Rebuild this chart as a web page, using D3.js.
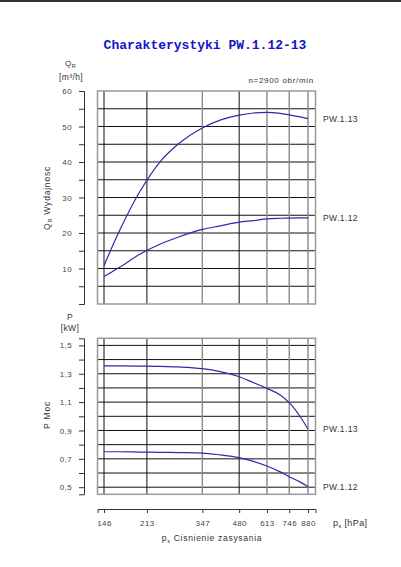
<!DOCTYPE html>
<html>
<head>
<meta charset="utf-8">
<script src="https://cdn.jsdelivr.net/npm/d3@7"></script>
<style>
  body { margin: 0; background: #fff; }
  text { font-family: "Liberation Sans", Arial, sans-serif; fill: #333; letter-spacing: 0.4px; }
  .tick text { font-size: 8px; fill: #444; }
  .tick line, .domain { stroke: #333; }
</style>
</head>
<body>
<script>
// suction pressure samples [hPa]
var pressure = [146, 168, 200, 240, 280, 347, 406, 480, 545, 613, 689, 746, 822, 880];
// flow [m3/h]
var flow113 = [10.8, 20.9, 31.6, 40.2, 45.0, 49.6, 51.8, 53.2, 53.8, 54.0, 53.7, 53.25, 52.7, 52.2];
var flow112 = [7.7, 10.4, 14.0, 16.9, 18.8, 21.0, 22.0, 23.05, 23.5, 24.0, 24.15, 24.2, 24.25, 24.26];
// power [kW]
var power113 = [1.355, 1.355, 1.354, 1.352, 1.348, 1.336, 1.315, 1.279, 1.237, 1.197, 1.150, 1.096, 0.997, 0.910];
var power112 = [0.750, 0.750, 0.748, 0.746, 0.744, 0.741, 0.728, 0.708, 0.682, 0.650, 0.608, 0.574, 0.536, 0.504];

var xTicks = [146, 213, 347, 480, 613, 746, 880];
var flowTicks = d3.range(0, 61, 5);
var powerTicks = [0.5, 0.6, 0.7, 0.8, 0.9, 1.0, 1.1, 1.2, 1.3, 1.4, 1.5];
var seriesNames = ["PW.1.13", "PW.1.12"];

var w = 401, h = 567;
var frameL = 97.5, frameR = 315.5;
var curveColor = "#2e2aa6";

var svg = d3.select("body").append("svg")
  .attr("width", w)
  .attr("height", h);

// thin dark bar at the top of the sheet
svg.append("rect").attr("x", 0).attr("y", 0).attr("width", w).attr("height", 2).attr("fill", "#333");

// x scale (log) and a copy that spans the whole frame for the axis
var x = d3.scaleLog().domain([146, 880]).range([104, 308]);
var xFrame = x.copy().domain([x.invert(frameL), x.invert(frameR)]).range([frameL, frameR]);

var yQ = d3.scaleLinear().domain([0, 60]).range([304, 91]);
var yP = d3.scaleLinear().domain([0.45, 1.55]).range([494.3, 338.3]);

// title
svg.append("text")
  .attr("x", 205).attr("y", 49)
  .attr("text-anchor", "middle")
  .style("font-family", "'Liberation Mono', 'DejaVu Sans Mono', monospace")
  .style("font-weight", "bold")
  .style("font-size", "13px")
  .style("letter-spacing", "0px")
  .style("fill", "#1414c8")
  .text("Charakterystyki PW.1.12-13");

svg.append("text")
  .attr("x", 314).attr("y", 83)
  .attr("text-anchor", "end")
  .style("font-size", "8px")
  .style("letter-spacing", "0.7px")
  .text("n=2900 obr/min");

function panel(y, ticks, fmt, labelTicks, series) {
  var top = y.range()[1], bottom = y.range()[0];
  var g = svg.append("g");

  // horizontal grid
  g.selectAll("line.h")
    .data(ticks.filter(function(t) { return y(t) > top + 1 && y(t) < bottom - 1; }))
    .enter().append("line")
    .attr("x1", frameL).attr("x2", frameR)
    .attr("y1", function(d) { return y(d); })
    .attr("y2", function(d) { return y(d); })
    .attr("stroke", "#111").attr("stroke-width", 1);

  // vertical grid
  g.selectAll("line.v")
    .data(xTicks)
    .enter().append("line")
    .attr("x1", function(d) { return x(d); })
    .attr("x2", function(d) { return x(d); })
    .attr("y1", top).attr("y2", bottom)
    .attr("stroke", function(d, i) { return (i == 2 || i > 3) ? "#888" : "#111"; })
    .attr("stroke-width", function(d, i) { return (i == 2 || i > 3) ? 1.4 : 1; });

  // frame
  g.append("rect")
    .attr("x", frameL).attr("y", top)
    .attr("width", frameR - frameL).attr("height", bottom - top)
    .attr("fill", "none").attr("stroke", "#999").attr("stroke-width", 1.5);

  // left axis, set apart from the frame
  var axis = d3.axisLeft(y)
    .tickValues(ticks)
    .tickSize(5)
    .tickSizeOuter(5)
    .tickPadding(7)
    .tickFormat(function(d) {
      return labelTicks.some(function(t) { return Math.abs(t - d) < 1e-6; }) ? fmt(d) : "";
    });
  svg.append("g")
    .attr("transform", "translate(84,0)")
    .call(axis);

  // curves
  var line = d3.line()
    .x(function(d) { return x(d[0]); })
    .y(function(d) { return y(d[1]); })
    .curve(d3.curveMonotoneX);

  series.forEach(function(vals, i) {
    var pts = pressure.map(function(p, j) { return [p, vals[j]]; });
    g.append("path")
      .datum(pts)
      .attr("d", line)
      .attr("fill", "none")
      .attr("stroke", curveColor)
      .attr("stroke-width", 1.2);
    g.append("text")
      .attr("x", 323)
      .attr("y", y(vals[vals.length - 1]) + 3)
      .style("font-size", "8.5px")
      .text(seriesNames[i]);
  });
}

panel(yQ, flowTicks, d3.format("d"), [10, 20, 30, 40, 50, 60], [flow113, flow112]);
panel(yP, powerTicks, function(d) { return d3.format(".1f")(d).replace(".", ","); },
      [0.5, 0.7, 0.9, 1.1, 1.3, 1.5], [power113, power112]);

// x axis below the power panel
svg.append("g")
  .attr("transform", "translate(0,509)")
  .call(d3.axisBottom(xFrame)
    .tickValues(xTicks)
    .tickFormat(d3.format("d"))
    .tickSize(4)
    .tickSizeOuter(4)
    .tickPadding(7));

// y titles
function sub(t, main, s, rest) {
  t.append("tspan").text(main);
  t.append("tspan").attr("dy", 1.5).style("font-size", "5.5px").text(s);
  if (rest) t.append("tspan").attr("dy", -1.5).text(rest);
}

var qTop = svg.append("text").attr("x", 65).attr("y", 66).style("font-size", "8px");
sub(qTop, "Q", "R");
svg.append("text").attr("x", 71).attr("y", 80).attr("text-anchor", "middle")
  .style("font-size", "8.5px").text("[m³/h]");

var qSide = svg.append("text")
  .attr("transform", "translate(50,198) rotate(-90)")
  .attr("text-anchor", "middle")
  .style("font-size", "8.5px")
  .style("letter-spacing", "0.8px");
sub(qSide, "Q", "R", "  Wydajnosc");

svg.append("text").attr("x", 70).attr("y", 320).attr("text-anchor", "middle")
  .style("font-size", "8.5px").text("P");
svg.append("text").attr("x", 70).attr("y", 331).attr("text-anchor", "middle")
  .style("font-size", "8.5px").text("[kW]");

svg.append("text")
  .attr("transform", "translate(50,415) rotate(-90)")
  .attr("text-anchor", "middle")
  .style("font-size", "8.5px")
  .style("letter-spacing", "0.8px")
  .text("P  Moc");

// x titles
var xUnit = svg.append("text").attr("x", 333).attr("y", 526).style("font-size", "9px");
sub(xUnit, "p", "s", " [hPa]");

var xName = svg.append("text").attr("x", 212).attr("y", 541).attr("text-anchor", "middle")
  .style("font-size", "8.5px")
  .style("letter-spacing", "0.7px");
sub(xName, "p", "s", "  Cisnienie zasysania");
</script>
</body>
</html>
